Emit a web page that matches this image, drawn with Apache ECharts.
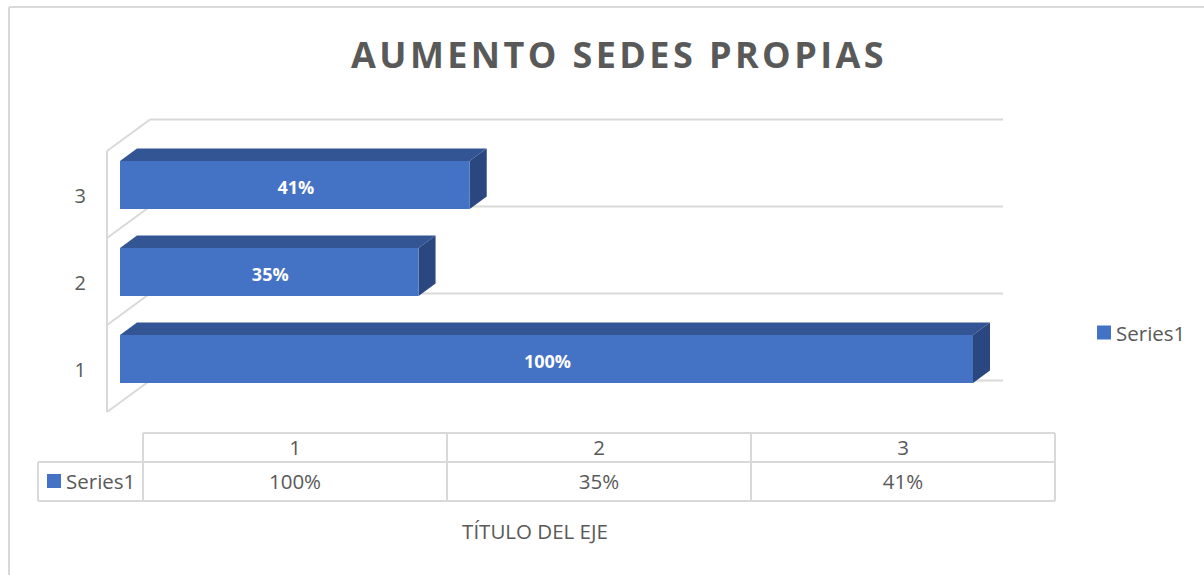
<!DOCTYPE html>
<html>
<head>
<meta charset="utf-8">
<style>
html, body { margin: 0; padding: 0; background: #fff; }
#chart { width: 1204px; height: 575px; }
/* el titulo original va espaciado, solo se puede con svg + css */
#chart svg text[style*="36px"] { letter-spacing: 3.4px; }
</style>
<script src="https://cdn.jsdelivr.net/npm/echarts@6/dist/echarts.min.js"></script>
</head>
<body>
<div id="chart"></div>
<script>
var categories = ["1", "2", "3"];
var seriesName = "Series1";
var seriesValues = [1.00, 0.35, 0.41];
var titleText = "AUMENTO SEDES PROPIAS";
var axisTitle = "TÍTULO DEL EJE";

var blue = "#4472c4", blueTop = "#335593", blueSide = "#2a4780";
var lineColor = "#d9d9d9", textColor = "#595959";
var font = "'Open Sans', 'Noto Sans', sans-serif";

// profundidad de la barra
var depthX = 17, depthY = 12.5;

function pct(v) {
    return Math.round(v * 100) + "%";
}

// paredes del grafico: una banda por categoria
function renderWall(params, api) {
    var idx = api.value(0);
    var c = api.coord([0, idx]);
    var full = api.coord([1, idx]);
    var band = api.size([0, 1])[1];
    var bottom = c[1] + band / 2;
    var top = c[1] - band / 2;
    var style = { stroke: lineColor, lineWidth: 2, fill: null };
    var kids = [
        { type: "line", shape: { x1: c[0] - 13, y1: bottom + 9.5, x2: c[0] - 13, y2: top + 9.5 }, style: style },
        { type: "line", shape: { x1: c[0] - 13, y1: bottom + 9.5, x2: c[0] + 30, y2: bottom - 22 }, style: style },
        { type: "line", shape: { x1: c[0] + 30, y1: bottom - 22, x2: full[0] + 30, y2: bottom - 22 }, style: style }
    ];
    if (idx == categories.length - 1) {
        kids.push({ type: "line", shape: { x1: c[0] - 13, y1: top + 9.5, x2: c[0] + 30, y2: top - 22 }, style: style });
        kids.push({ type: "line", shape: { x1: c[0] + 30, y1: top - 22, x2: full[0] + 30, y2: top - 22 }, style: style });
    }
    return { type: "group", children: kids };
}

function renderBar(params, api) {
    var idx = api.value(0);
    var start = api.coord([0, idx]);
    var end = api.coord([api.value(1), idx]);
    var h = 48;
    var x0 = start[0], x1 = end[0], y0 = start[1] - h / 2, y1 = start[1] + h / 2;
    return {
        type: "group",
        children: [
            { type: "polygon", shape: { points: [[x0, y0], [x0 + depthX, y0 - depthY], [x1 + depthX, y0 - depthY], [x1, y0]] }, style: { fill: blueTop } },
            { type: "polygon", shape: { points: [[x1, y0], [x1 + depthX, y0 - depthY], [x1 + depthX, y1 - depthY], [x1, y1]] }, style: { fill: blueSide } },
            { type: "rect", shape: { x: x0, y: y0, width: x1 - x0, height: y1 - y0 }, style: { fill: blue } },
            {
                type: "text",
                x: (x0 + x1) / 2 + 1,
                y: start[1] + 2,
                style: { text: pct(api.value(1)), fill: "#fff", font: "bold 18px " + font, align: "center", verticalAlign: "middle" }
            }
        ]
    };
}

// tabla de datos debajo del grafico
var tableX = [143, 447, 751, 1055];
var tableY = [433, 462, 501];
var tableLeft = 38;
var graphics = [];

function tableLine(x1, y1, x2, y2) {
    graphics.push({ type: "line", shape: { x1: x1, y1: y1, x2: x2, y2: y2 }, style: { stroke: lineColor, lineWidth: 2 }, silent: true });
}
function tableText(text, x, y, align) {
    graphics.push({ type: "text", x: x, y: y, style: { text: text, fill: textColor, font: "20.5px " + font, align: align || "center", verticalAlign: "middle" }, silent: true });
}

tableLine(tableX[0], tableY[0], tableX[3], tableY[0]);
tableLine(tableLeft, tableY[1], tableX[3], tableY[1]);
tableLine(tableLeft, tableY[2], tableX[3], tableY[2]);
tableLine(tableLeft, tableY[1], tableLeft, tableY[2]);
for (var i = 0; i < tableX.length; i++) {
    tableLine(tableX[i], tableY[0], tableX[i], tableY[2]);
}
for (var j = 0; j < categories.length; j++) {
    var mid = (tableX[j] + tableX[j + 1]) / 2;
    tableText(categories[j], mid, 447);
    tableText(pct(seriesValues[j]), mid, 480.5);
}
graphics.push({ type: "rect", shape: { x: 47, y: 474, width: 14, height: 14 }, style: { fill: blue }, silent: true });
tableText(seriesName, 66, 480.5, "left");
tableText(axisTitle, 535, 531);

// marco exterior: solo arriba y a la izquierda
tableLine(9, 7, 1204, 7);
tableLine(9, 7, 9, 575);

var chart = echarts.init(document.getElementById("chart"), null, { renderer: "svg" });
chart.setOption({
    animation: false,
    backgroundColor: "#fff",
    title: {
        text: titleText,
        left: 614,
        top: 31,
        textAlign: "center",
        textStyle: { color: textColor, fontSize: 36, fontWeight: "bold", fontFamily: font }
    },
    legend: {
        data: [{ name: seriesName, itemStyle: { color: blue } }],
        left: 1092,
        top: 317,
        icon: "rect",
        itemWidth: 14,
        itemHeight: 14,
        itemGap: 5,
        textStyle: { color: textColor, fontSize: 20.5, fontFamily: font }
    },
    grid: { left: 120, right: 231, top: 141.5, height: 261, containLabel: false },
    xAxis: { type: "value", min: 0, max: 1, show: false },
    yAxis: {
        type: "category",
        data: categories,
        axisLine: { show: false },
        axisTick: { show: false },
        axisLabel: { color: textColor, fontSize: 20, fontFamily: font, margin: 34, verticalAlign: "top" }
    },
    series: [
        {
            type: "custom",
            name: "pared",
            silent: true,
            z: 1,
            renderItem: renderWall,
            data: categories.map(function (c, i) { return [i]; })
        },
        {
            type: "custom",
            name: seriesName,
            z: 2,
            itemStyle: { color: blue },
            renderItem: renderBar,
            encode: { x: 1, y: 0 },
            data: seriesValues.map(function (v, i) { return [i, v]; })
        }
    ],
    graphic: graphics
});
</script>
</body>
</html>
